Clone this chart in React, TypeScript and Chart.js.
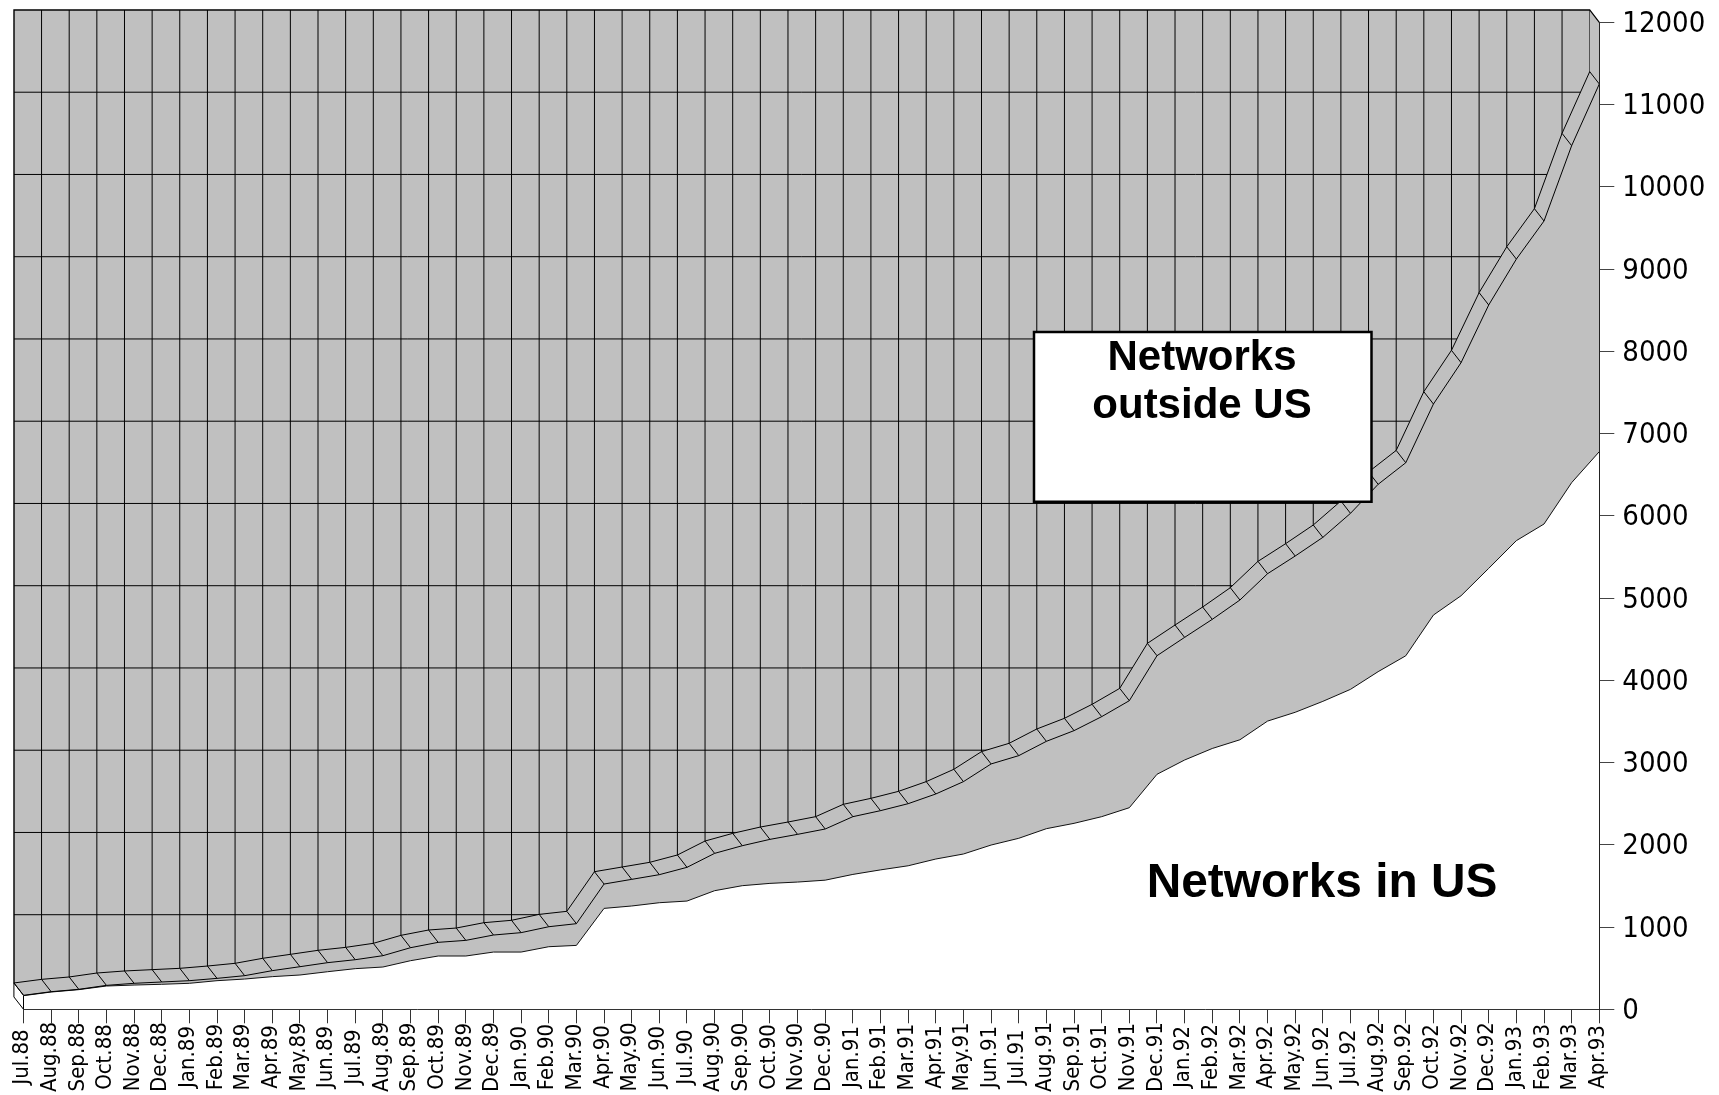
import React, { useEffect, useRef } from "react";
import { Chart, registerables } from "chart.js";

Chart.register(...registerables);

const months: string[] = [
  "Jul.88","Aug.88","Sep.88","Oct.88","Nov.88","Dec.88","Jan.89","Feb.89","Mar.89","Apr.89","May.89","Jun.89",
  "Jul.89","Aug.89","Sep.89","Oct.89","Nov.89","Dec.89","Jan.90","Feb.90","Mar.90","Apr.90","May.90","Jun.90",
  "Jul.90","Aug.90","Sep.90","Oct.90","Nov.90","Dec.90","Jan.91","Feb.91","Mar.91","Apr.91","May.91","Jun.91",
  "Jul.91","Aug.91","Sep.91","Oct.91","Nov.91","Dec.91","Jan.92","Feb.92","Mar.92","Apr.92","May.92","Jun.92",
  "Jul.92","Aug.92","Sep.92","Oct.92","Nov.92","Dec.92","Jan.93","Feb.93","Mar.93","Apr.93",
];

const networksInUS: number[] = [
  166,210,239,283,295,304,316,348,368,397,417,457,494,514,
  591,648,648,696,696,761,777,1227,1256,1296,1316,1442,1503,1531,1547,
  1570,1640,1695,1745,1827,1888,1997,2079,2196,2261,2342,2451,
  2857,3031,3171,3277,3504,3611,3744,3890,4105,4298,4793,5028,5361,5698,5900,6403,6780,
];

const networksOutsideUS: number[] = [
  4,4,4,8,21,28,32,28,41,73,101,110,109,138,
  158,166,190,207,236,243,264,296,324,341,410,454,486,535,580,
  622,702,720,755,791,880,986,1005,1062,1127,1216,1301,
  1442,1491,1570,1699,1792,1900,1994,2140,2278,2347,2566,2834,3202,3423,3684,4097,4470,
];

const networksTotal = networksInUS.map((v, i) => v + networksOutsideUS[i]);
const yTicks: number[] = [1000,2000,3000,4000,5000,6000,7000,8000,9000,10000,11000,12000];

const DEPTH_X = 0.347; // months of depth
const DEPTH_Y = 150; // networks of depth
const GRAY = "#c0c0c0";
const INK = "#000";
const LABEL_FAMILY = "'DejaVu Sans Condensed', 'DejaVu Sans'";

const plugin3d = {
  id: "depth3d",
  beforeDraw(chart: any) {
    const { ctx, scales } = chart;
    const { x, y, x2, y2 } = scales;
    const last = months.length - 1;
    const bx = (i: number) => x2.getPixelForValue(i);
    const by = (v: number) => y2.getPixelForValue(v);
    const fx = (i: number) => x.getPixelForValue(i);
    const fy = (v: number) => y.getPixelForValue(v);
    ctx.save();
    ctx.fillStyle = "#fff";
    ctx.fillRect(0, 0, chart.width, chart.height);
    // wall and floor of the box, in gray
    ctx.fillStyle = GRAY;
    ctx.beginPath();
    ctx.moveTo(bx(0), by(12000));
    ctx.lineTo(bx(last), by(12000));
    ctx.lineTo(fx(last), fy(12000));
    ctx.lineTo(fx(last), fy(0));
    ctx.lineTo(fx(0), fy(0));
    ctx.lineTo(bx(0), by(0));
    ctx.closePath();
    ctx.fill();
    // grid on the back wall, only above the back edge of the surface
    ctx.save();
    ctx.beginPath();
    ctx.moveTo(bx(0), by(12000));
    ctx.lineTo(bx(last), by(12000));
    networksTotal.slice().reverse().forEach((v, k) => ctx.lineTo(bx(last - k), by(v)));
    ctx.closePath();
    ctx.clip();
    ctx.strokeStyle = INK;
    ctx.lineWidth = 1;
    months.forEach((_, i) => {
      ctx.beginPath();
      ctx.moveTo(bx(i), by(12000));
      ctx.lineTo(bx(i), by(0));
      ctx.stroke();
    });
    yTicks.forEach((v) => {
      ctx.beginPath();
      ctx.moveTo(bx(0), by(v));
      ctx.lineTo(bx(last), by(v));
      ctx.stroke();
    });
    ctx.restore();
    ctx.strokeStyle = INK;
    ctx.lineWidth = 1.2;
    ctx.beginPath();
    ctx.moveTo(bx(0), by(networksTotal[0]));
    ctx.lineTo(bx(0), by(12000));
    ctx.lineTo(bx(last), by(12000));
    ctx.lineTo(fx(last), fy(12000));
    ctx.stroke();
    ctx.restore();
  },
  afterDatasetsDraw(chart: any) {
    const { ctx, scales } = chart;
    const { x, y, x2, y2 } = scales;
    const bx = (i: number) => x2.getPixelForValue(i);
    const by = (v: number) => y2.getPixelForValue(v);
    const fx = (i: number) => x.getPixelForValue(i);
    const fy = (v: number) => y.getPixelForValue(v);
    ctx.save();
    // left side face
    ctx.fillStyle = "#fff";
    ctx.strokeStyle = INK;
    ctx.lineWidth = 1;
    ctx.beginPath();
    ctx.moveTo(bx(0), by(networksTotal[0]));
    ctx.lineTo(fx(0), fy(networksTotal[0]));
    ctx.lineTo(fx(0), fy(0));
    ctx.lineTo(bx(0), by(0));
    ctx.closePath();
    ctx.fill();
    ctx.stroke();
    // ribs across the top surface
    networksTotal.forEach((v, i) => {
      ctx.beginPath();
      ctx.moveTo(bx(i), by(v));
      ctx.lineTo(fx(i), fy(v));
      ctx.stroke();
    });
    // x tick labels, centred on their own length
    ctx.fillStyle = INK;
    ctx.font = `22px ${LABEL_FAMILY}`;
    ctx.textAlign = "center";
    ctx.textBaseline = "middle";
    months.forEach((m, i) => {
      ctx.save();
      ctx.translate(fx(i) - 1, 1057);
      ctx.rotate(-Math.PI / 2);
      ctx.fillText(m, 0, 0);
      ctx.restore();
    });
    // annotation box
    ctx.fillStyle = "#fff";
    ctx.strokeStyle = INK;
    ctx.lineWidth = 2.5;
    ctx.beginPath();
    ctx.rect(1034, 332, 337.5, 169.7);
    ctx.fill();
    ctx.stroke();
    ctx.fillStyle = INK;
    ctx.textBaseline = "alphabetic";
    ctx.font = "bold 42px 'Liberation Sans'";
    ctx.fillText("Networks", 1202, 370);
    ctx.fillText("outside US", 1202, 417.5);
    ctx.font = "bold 47.8px 'Liberation Sans'";
    ctx.fillText("Networks in US", 1322, 897);
    ctx.restore();
  },
};

export default function App() {
  const ref = useRef<HTMLCanvasElement | null>(null);
  useEffect(() => {
    if (!ref.current) return;
    const backPts = networksTotal.map((v, i) => ({ x: i, y: v }));
    const chart = new Chart(ref.current, {
      type: "line",
      data: {
        labels: months,
        datasets: [
          {
            label: "Networks outside US (front edge)",
            data: networksTotal,
            borderColor: INK,
            borderWidth: 1,
            pointRadius: 0,
            tension: 0,
            fill: false,
            clip: false,
            order: 1,
          },
          {
            label: "Networks outside US (back edge)",
            data: backPts,
            xAxisID: "x2",
            yAxisID: "y2",
            borderColor: INK,
            borderWidth: 1,
            pointRadius: 0,
            tension: 0,
            fill: false,
            clip: false,
            order: 2,
          },
          {
            label: "Networks in US",
            data: networksInUS,
            borderColor: "#111",
            borderWidth: 1,
            backgroundColor: "#fff",
            pointRadius: 0,
            tension: 0,
            fill: "start",
            clip: false,
            order: 3,
          },
        ],
      } as any,
      options: {
        animation: false,
        responsive: false,
        maintainAspectRatio: false,
        layout: { padding: { left: 23.5, top: 22.3, right: 0, bottom: 0 } },
        plugins: { legend: { display: false }, title: { display: false }, tooltip: { enabled: false } },
        scales: {
          x: {
            type: "category",
            offset: false,
            grid: { drawOnChartArea: false, drawTicks: true, tickLength: 14, color: "#333" },
            border: { color: "#333", z: 1 },
            ticks: { display: false, autoSkip: false },
            afterFit: (s: any) => { s.height = 85.7; },
          },
          y: {
            type: "linear",
            position: "right",
            min: 0,
            max: 12000,
            grid: { drawOnChartArea: false, drawTicks: true, tickLength: 15, color: "#444" },
            border: { color: "#222", z: 1 },
            ticks: {
              stepSize: 1000,
              padding: 8,
              labelOffset: 2,
              color: INK,
              font: { family: LABEL_FAMILY, size: 29 },
              callback: (v: any) => String(v),
            },
            afterFit: (s: any) => { s.width = 119.7; s.paddingTop = 0; s.paddingBottom = 0; },
          },
          x2: { type: "linear", axis: "x", display: false, min: DEPTH_X, max: months.length - 1 + DEPTH_X },
          y2: { type: "linear", axis: "y", display: false, min: -DEPTH_Y, max: 12000 - DEPTH_Y },
        },
      } as any,
      plugins: [plugin3d],
    });
    return () => chart.destroy();
  }, []);
  return (
    <canvas
      ref={ref}
      width={1719}
      height={1095}
      style={{ position: "absolute", left: 0, top: 0, display: "block" }}
    />
  );
}
